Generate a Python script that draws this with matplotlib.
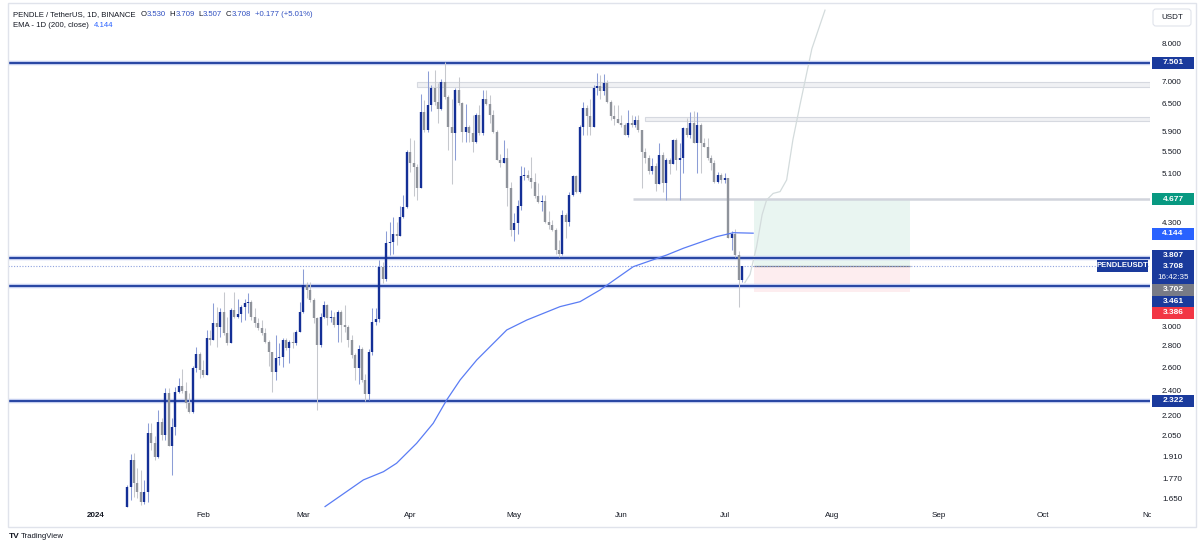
import numpy as np
import matplotlib
matplotlib.use("Agg")
import matplotlib.pyplot as plt
from matplotlib.patches import Rectangle, FancyBboxPatch
from matplotlib.transforms import IdentityTransform, blended_transform_factory
from matplotlib.ticker import NullLocator

plt.rcParams['font.family'] = ['Liberation Sans', 'DejaVu Sans']

# PENDLE/USDT daily candles, day = days since 2024-01-01 (first candle Jan 10)
first_day = 9
first_open = 1.606
closes = [
    1.725, 1.892, 1.745, 1.695, 1.636, 1.695, 2.075, 2.004, 1.914, 2.160,
    2.064, 2.384, 1.986, 2.124, 2.398, 2.445, 2.405, 2.303, 2.237, 2.600,
    2.732, 2.585, 2.540, 2.885, 2.868, 3.045, 3.000, 3.164, 2.936, 2.835,
    3.183, 3.109, 3.139, 3.218, 3.264, 3.276, 3.109, 3.038, 2.987, 2.936,
    2.851, 2.754, 2.570, 2.691, 2.707, 2.868, 2.786, 2.851, 2.835, 2.952,
    3.164, 3.467, 3.412, 3.295, 3.092, 2.818, 3.109, 3.236, 3.092, 3.109,
    3.021, 3.164, 3.021, 3.004, 2.868, 2.723, 2.600, 2.780, 2.500, 2.380,
    2.754, 3.056, 3.090, 3.700, 3.550, 4.020, 4.036, 4.146, 4.118, 4.400,
    4.557, 5.500, 5.300, 5.220, 4.860, 6.330, 5.950, 6.480, 6.880, 6.560,
    6.400, 7.010, 6.670, 6.010, 5.880, 6.830, 6.520, 5.910, 6.010, 5.880,
    5.710, 6.270, 5.880, 6.620, 6.500, 6.270, 5.910, 5.360, 5.300, 5.400,
    4.860, 4.200, 4.300, 4.560, 5.060, 5.090, 5.030, 4.970, 4.720, 4.630,
    4.650, 4.320, 4.280, 4.200, 3.920, 3.870, 4.420, 4.320, 4.750, 5.060,
    4.800, 6.010, 6.410, 6.230, 6.010, 6.880, 6.920, 6.800, 6.990, 6.560,
    6.230, 6.180, 6.100, 6.050, 5.850, 6.100, 6.050, 6.150, 5.950, 5.500,
    5.400, 5.150, 5.250, 4.920, 5.450, 4.940, 5.360, 5.290, 5.740, 5.360,
    5.400, 5.980, 5.850, 6.080, 5.680, 6.050, 5.680, 5.610, 5.390, 5.300,
    4.970, 5.090, 5.000, 5.040, 4.080, 4.150, 3.850, 3.530, 3.708,
]
highs = [
    1.734, 1.932, 1.940, 1.838, 1.827, 1.765, 2.148, 2.148, 2.052, 2.250,
    2.186, 2.425, 2.425, 2.186, 2.439, 2.511, 2.591, 2.482, 2.384, 2.620,
    2.800, 2.754, 2.676, 2.970, 2.970, 3.264, 3.218, 3.200, 3.385, 3.109,
    3.201, 3.385, 3.312, 3.236, 3.312, 3.378, 3.295, 3.201, 3.092, 3.074,
    2.987, 2.868, 2.754, 2.918, 2.835, 2.885, 2.885, 2.868, 2.952, 2.970,
    3.276, 3.666, 3.512, 3.512, 3.314, 3.109, 3.146, 3.287, 3.255, 3.183,
    3.164, 3.183, 3.183, 3.236, 3.021, 2.918, 2.740, 2.820, 2.800, 2.550,
    2.780, 3.201, 3.201, 3.780, 3.760, 4.180, 4.320, 4.400, 4.320, 4.560,
    4.745, 5.546, 5.780, 5.740, 5.290, 6.730, 6.600, 7.300, 6.950, 7.320,
    7.000, 7.100, 7.520, 6.710, 6.620, 6.870, 7.150, 6.560, 6.500, 6.050,
    6.270, 6.310, 6.480, 6.830, 6.830, 6.710, 6.370, 5.950, 5.470, 5.740,
    5.580, 4.970, 4.460, 4.660, 5.250, 5.220, 5.170, 5.410, 5.120, 4.940,
    4.750, 4.750, 4.480, 4.350, 4.230, 4.060, 4.500, 4.460, 4.800, 5.080,
    5.090, 6.050, 6.540, 6.480, 6.620, 6.950, 7.240, 7.190, 7.220, 7.070,
    6.600, 6.480, 6.480, 6.270, 6.100, 6.370, 6.270, 6.230, 6.270, 5.950,
    5.580, 5.450, 5.400, 5.300, 5.680, 5.500, 5.390, 5.390, 5.760, 5.780,
    5.680, 6.000, 6.190, 6.330, 6.350, 6.330, 6.080, 5.780, 5.780, 5.450,
    5.360, 5.140, 5.120, 5.120, 5.040, 4.180, 4.210, 3.900, 3.709,
]
lows = [
    1.604, 1.646, 1.665, 1.656, 1.619, 1.625, 1.636, 1.958, 1.892, 1.903,
    2.027, 2.027, 1.986, 1.796, 2.064, 2.384, 2.384, 2.263, 2.224, 2.224,
    2.570, 2.511, 2.525, 2.540, 2.818, 2.901, 2.800, 2.900, 2.918, 2.818,
    2.835, 3.100, 3.100, 3.056, 3.074, 3.146, 3.074, 3.004, 2.970, 2.918,
    2.841, 2.620, 2.398, 2.497, 2.629, 2.614, 2.770, 2.645, 2.786, 2.818,
    2.952, 3.146, 3.314, 3.276, 3.038, 2.250, 2.800, 3.092, 3.021, 3.056,
    3.004, 2.851, 2.851, 2.952, 2.800, 2.691, 2.500, 2.460, 2.480, 2.320,
    2.330, 2.723, 3.021, 3.050, 3.500, 3.520, 3.850, 3.870, 3.990, 4.118,
    4.376, 4.530, 5.140, 4.720, 4.660, 4.860, 5.900, 5.900, 6.350, 6.480,
    6.080, 6.370, 6.620, 5.550, 4.920, 5.360, 6.480, 5.710, 5.710, 5.710,
    5.500, 5.680, 5.850, 5.850, 6.480, 6.080, 5.880, 5.360, 5.220, 5.300,
    4.560, 4.120, 4.040, 4.150, 4.500, 5.000, 5.000, 4.860, 4.690, 4.610,
    4.480, 4.300, 4.220, 4.190, 3.870, 3.830, 3.850, 4.080, 4.260, 4.720,
    4.770, 4.770, 5.850, 5.850, 5.850, 6.230, 6.710, 6.620, 6.720, 6.520,
    6.150, 6.050, 6.080, 6.010, 5.840, 5.810, 6.010, 6.010, 5.910, 4.860,
    5.300, 5.100, 5.100, 4.810, 4.920, 4.800, 4.660, 5.100, 5.290, 5.180,
    4.660, 5.120, 5.810, 5.780, 5.680, 5.120, 5.120, 5.600, 5.360, 5.180,
    4.940, 4.940, 4.950, 4.950, 4.080, 3.920, 3.830, 3.220, 3.507,
]

# EMA 200
ema_days = [66.3, 77.4, 83.2, 87.0, 92.8, 97.6, 101.5, 105.4, 110.2, 118.9,
            124.7, 134.3, 140.1, 145.9, 155.5, 165.2, 170.0, 179.6, 184.5, 190.2]
ema_vals = [1.609, 1.765, 1.816, 1.870, 2.004, 2.148, 2.329, 2.497, 2.676, 2.970,
            3.074, 3.220, 3.276, 3.412, 3.699, 3.852, 3.943, 4.105, 4.162, 4.155]

# faint projected path drawing
path_days = [187.8, 189.3, 191.2, 192.8, 194.1, 196.0, 198.0, 199.9, 201.7, 203.8, 207.2, 211.0]
path_vals = [3.50, 3.60, 3.966, 4.43, 4.663, 4.77, 4.80, 4.998, 5.742, 6.50, 7.88, 9.01]

levels = [7.501, 3.807, 3.461, 2.322]
zones = [(92.9, 6.907, 7.014), (158.9, 6.126, 6.224)]
support_line = (155.4, 4.677)
target, entry, stop, last_price = 4.677, 3.702, 3.386, 3.708
pos_start, pos_end = 190.4, 235.6

month_days = [0, 31, 60, 91, 121, 152, 182, 213, 244, 274, 305]
month_labels = ['2024', 'Feb', 'Mar', 'Apr', 'May', 'Jun', 'Jul', 'Aug', 'Sep', 'Oct', 'Nov']
tick_prices = [8.0, 7.0, 6.5, 5.9, 5.5, 5.1, 4.3, 3.0, 2.8, 2.6, 2.4, 2.2, 2.05, 1.91, 1.77, 1.65]

W, H = 1200, 548
NAVY = '#1a3a9c'
TXT = '#131722'

fig = plt.figure(figsize=(W / 100, H / 100), dpi=100)
fig.patch.set_facecolor('white')
ax = fig.add_axes([8 / W, (H - 508) / H, (1150 - 8) / W, (508 - 3) / H])
ax.set_yscale('log')
ax.set_ylim(1.601, 9.236)
ax.set_xlim(-25.47, 305.07)
ax.yaxis.set_major_locator(NullLocator())
ax.yaxis.set_minor_locator(NullLocator())
for s in ax.spines.values():
    s.set_visible(False)
ax.set_xticks(month_days, month_labels)
ax.tick_params(axis='x', length=0, pad=3, labelsize=5.8, labelcolor=TXT)
ax.get_xticklabels()[0].set_fontweight('bold')

# candles
c = np.array(closes)
o = np.concatenate([[first_open], c[:-1]])
hi = np.maximum(np.array(highs), np.maximum(o, c))
lo = np.minimum(np.array(lows), np.minimum(o, c))
days = first_day + np.arange(len(c))
up = c >= o
body_lo = np.minimum(o, c)
body_hi = np.maximum(np.maximum(o, c), body_lo * 1.004)

ax.vlines(days[up], lo[up], hi[up], color='#8c9dd6', lw=0.75, zorder=3)
ax.vlines(days[~up], lo[~up], hi[~up], color='#c6c8cd', lw=0.75, zorder=3)
ax.vlines(days[up], body_lo[up], body_hi[up], color='#142f96', lw=1.7, zorder=4)
ax.vlines(days[~up], body_lo[~up], body_hi[~up], color='#8f939b', lw=1.7, zorder=4)

# drawings
x_right = ax.get_xlim()[1]
for start, z0, z1 in zones:
    ax.add_patch(Rectangle((start, z0), x_right - start, z1 - z0, facecolor='#f0f1f4',
                           edgecolor='#d6d9e0', lw=0.8, zorder=1))
ax.hlines(support_line[1], support_line[0], x_right, color='#d1d4dc', lw=1.8, zorder=1)

ax.add_patch(Rectangle((pos_start, entry), pos_end - pos_start, target - entry,
                       facecolor='#e9f5f1', edgecolor='none', zorder=0.5))
ax.add_patch(Rectangle((pos_start, stop), pos_end - pos_start, entry - stop,
                       facecolor='#fdedef', edgecolor='none', zorder=0.5))
ax.hlines(entry, pos_start, pos_end, color='#787b86', lw=0.9, zorder=2)

for lv in levels:
    ax.axhline(lv, color='#c3cdef', lw=3.2, zorder=2)
    ax.axhline(lv, color=NAVY, lw=1.3, zorder=2.1)
ax.axhline(last_price, color='#8fa2de', lw=0.8, ls=(0, (1, 1.5)), zorder=2)

ax.plot(ema_days, ema_vals, color='#5a7cf4', lw=0.9, zorder=5)
ax.plot(path_days, path_vals, color='#d3dbdc', lw=0.9, zorder=2)

# right price scale
ytr = blended_transform_factory(fig.transFigure, ax.transData)
for p in tick_prices:
    fig.text(1172 / W, p, f'{p:.3f}', transform=ytr, fontsize=5.8, color=TXT,
             ha='center', va='center')


def ypix(p):
    return ax.transData.transform((0, p))[1]


def tag(cy, text, color, h=11.5, x0=1152, w=42, fs=6, weight='bold'):
    fig.add_artist(Rectangle((x0, cy - h / 2), w, h, transform=IdentityTransform(),
                             facecolor=color, edgecolor='none', zorder=4))
    if text:
        fig.text((x0 + w / 2) / W, cy / H, text, color='white', fontsize=fs,
                 fontweight=weight, ha='center', va='center', zorder=5)


tag(ypix(7.501), '7.501', NAVY)
tag(ypix(4.677), '4.677', '#089981')
tag(ypix(4.144), '4.144', '#2962ff')
tag(ypix(2.322), '2.322', NAVY)
c0 = ypix(3.807) + 3
tag(c0, '3.807', NAVY)
tag(c0 - 17.25, '', NAVY, h=23)
fig.text(1173 / W, (c0 - 11.5) / H, '3.708', color='white', fontsize=6,
         fontweight='bold', ha='center', va='center', zorder=5)
fig.text(1173 / W, (c0 - 22.5) / H, '16:42:35', color='white', fontsize=5.8,
         ha='center', va='center', zorder=5)
tag(c0 - 34.5, '3.702', '#787b86')
tag(c0 - 46, '3.461', NAVY)
tag(c0 - 57.5, '3.386', '#f23645')
tag(ypix(last_price), 'PENDLEUSDT', NAVY, h=12, x0=1097, w=51, fs=5.5)

# cover the clipped "Nov" label as the price scale does
fig.add_artist(Rectangle((1151, H - 525), 44, 16, transform=IdentityTransform(),
                         facecolor='white', edgecolor='none', zorder=3))

fig.add_artist(FancyBboxPatch((1153, H - 26), 38, 17, boxstyle='round,pad=0,rounding_size=3',
                              transform=IdentityTransform(), facecolor='white',
                              edgecolor='#e0e3eb', lw=0.8, zorder=4))
fig.text(1172 / W, 1 - 17.5 / H, 'USDT', fontsize=5.8, color=TXT, ha='center', va='center', zorder=5)

# outer frame
fig.add_artist(Rectangle((8, H - 527), 1188, 524, transform=IdentityTransform(),
                         fill=False, edgecolor='#e0e3eb', lw=1, zorder=6))

# legend lines
renderer = fig.canvas.get_renderer()


def write_run(x, y, parts, fs=5.6):
    for s, col, gap in parts:
        t = fig.text(x / W, 1 - y / H, s, color=col, fontsize=fs, va='center', ha='left')
        x = t.get_window_extent(renderer).x1 + gap


BLUE = '#2f4fc0'
write_run(13, 14.5, [('PENDLE / TetherUS, 1D, BINANCE', TXT, 5),
                     ('O', TXT, 0), ('3.530', BLUE, 4),
                     ('H', TXT, 0), ('3.709', BLUE, 4),
                     ('L', TXT, 0), ('3.507', BLUE, 4),
                     ('C', TXT, 0), ('3.708', BLUE, 4),
                     ('+0.177 (+5.01%)', BLUE, 0)])
write_run(13, 25.5, [('EMA - 1D (200, close)', TXT, 5), ('4.144', '#2962ff', 0)])

fig.text(9 / W, 1 - 536 / H, 'TV', fontsize=6, fontweight='bold', color=TXT, va='center')
fig.text(21 / W, 1 - 536 / H, 'TradingView', fontsize=5.6, color=TXT, va='center')

fig.savefig('out.png', dpi=100)
